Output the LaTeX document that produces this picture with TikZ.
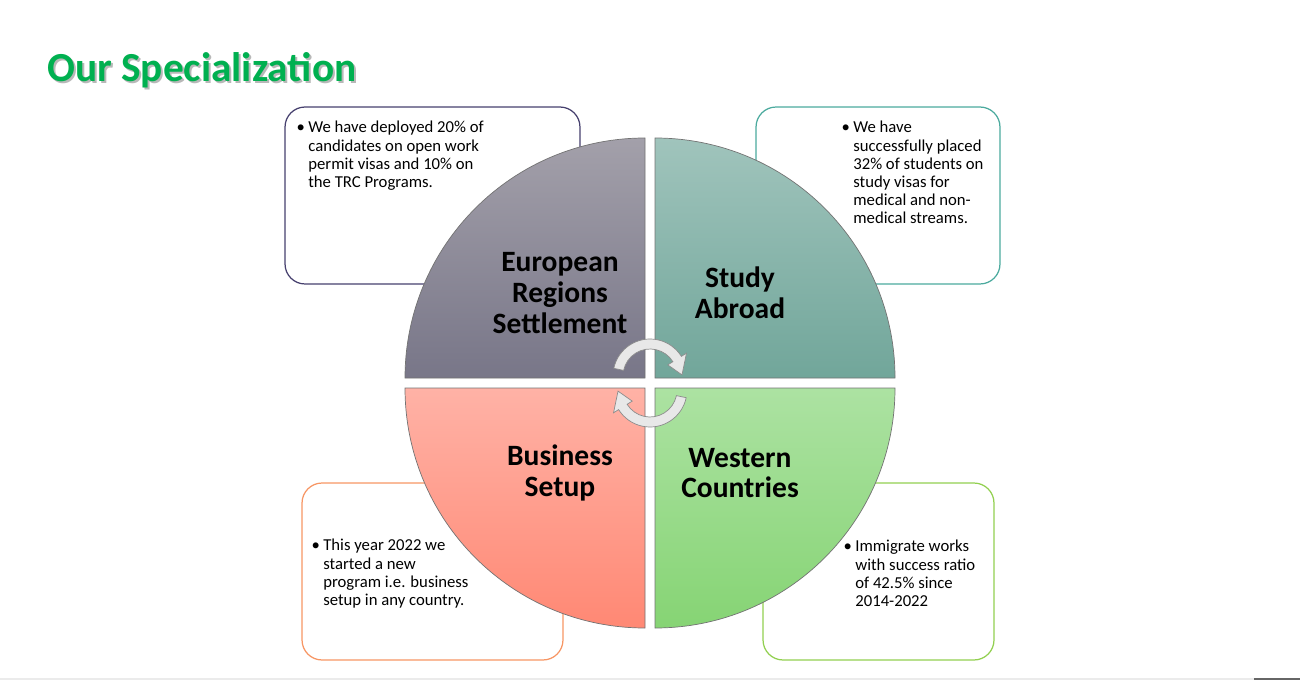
\documentclass[tikz,border=0pt]{standalone}
\usepackage{fontspec}
\setmainfont{Carlito}
\usetikzlibrary{positioning}
\definecolor{titlegreen}{RGB}{0,176,80}
\definecolor{eurline}{RGB}{70,64,110}
\definecolor{studyline}{RGB}{75,170,158}
\definecolor{busline}{RGB}{247,150,100}
\definecolor{westline}{RGB}{146,208,80}
\definecolor{eurtop}{RGB}{163,160,170}
\definecolor{eurbot}{RGB}{120,118,136}
\definecolor{studytop}{RGB}{160,196,188}
\definecolor{studybot}{RGB}{113,166,154}
\definecolor{bustop}{RGB}{255,178,166}
\definecolor{busbot}{RGB}{255,136,116}
\definecolor{westtop}{RGB}{172,226,162}
\definecolor{westbot}{RGB}{134,212,116}

\begin{document}
\begin{tikzpicture}[x=0.02cm, y=0.02cm]
  \tikzstyle{quadrant}=[draw=black!55, line width=0.4pt]
  \tikzstyle{note}=[rectangle, rounded corners=0.4cm, line width=0.7pt, fill=white, minimum height=3.54cm]
  \tikzstyle{notetext}=[align=left, anchor=north west, inner sep=0pt, font=\fontsize{9.5}{10.3}\selectfont]
  \tikzstyle{quadlabel}=[align=center, font=\fontsize{16.8}{17.6}\selectfont\bfseries]
  \tikzstyle{titletext}=[anchor=west, inner sep=0pt, font=\fontsize{23.5}{26}\selectfont\bfseries]
  \tikzstyle{turnarrow}=[draw=black!45, fill=black!9, line width=0.4pt]

  \useasboundingbox (0,0) rectangle (1300,680);

  % title
  \node[titletext, text=black!28] (titleshadow) at (49,608) {Our Specialization};
  \node[titletext, text=titlegreen] (title) at (47,610) {Our Specialization};

  % note boxes behind the circle
  \node[note, draw=eurline, minimum width=5.9cm] (boxeur) at (432.5,484.5) {};
  \node[note, draw=studyline, minimum width=4.88cm] (boxstudy) at (878,484.5) {};
  \node[note, draw=busline, minimum width=5.22cm] (boxbus) at (432.5,108.5) {};
  \node[note, draw=westline, minimum width=4.62cm] (boxwest) at (878.5,108.5) {};

  \node[notetext] (txteur) at (308,559) {\llap{\textbullet\hspace{2pt}}We have deployed 20\% of\\ candidates on open work\\ permit visas and 10\% on\\ the TRC Programs.};
  \node[notetext] (txtstudy) at (853,559) {\llap{\textbullet\hspace{2pt}}We have\\ successfully placed\\ 32\% of students on\\ study visas for\\ medical and non-\\ medical streams.};
  \node[notetext] (txtbus) at (323,141) {\llap{\textbullet\hspace{2pt}}This year 2022 we\\ started a new\\ program i.e. business\\ setup in any country.};
  \node[notetext] (txtwest) at (855,140) {\llap{\textbullet\hspace{2pt}}Immigrate works\\ with success ratio\\ of 42.5\% since\\ 2014-2022};

  % quadrants
  \draw[quadrant, top color=eurtop, bottom color=eurbot] (645,302) -- ++(-240,0) arc[start angle=180, end angle=90, radius=240] -- cycle;
  \draw[quadrant, top color=studytop, bottom color=studybot] (655,302) -- ++(0,240) arc[start angle=90, end angle=0, radius=240] -- cycle;
  \draw[quadrant, top color=bustop, bottom color=busbot] (645,292) -- ++(-240,0) arc[start angle=180, end angle=270, radius=240] -- cycle;
  \draw[quadrant, top color=westtop, bottom color=westbot] (655,292) -- ++(240,0) arc[start angle=0, end angle=-90, radius=240] -- cycle;

  \node[quadlabel] (eur) at (560,387) {European\\ Regions\\ Settlement};
  \node[quadlabel] (study) at (740,387.5) {Study\\ Abroad};
  \node[quadlabel] (bus) at (560,207) {Business\\ Setup};
  \node[quadlabel] (west) at (740,207) {Western\\ Countries};

  % circular arrows in the middle
  \foreach \cy/\rot in {304/0, 290/180} {
    \begin{scope}[shift={(650,\cy)}, rotate=\rot]
      \path[turnarrow] (168:37) arc[start angle=168, end angle=32, radius=37]
        -- (32:43) -- (2:32) -- (32:21) -- (32:27)
        arc[start angle=32, end angle=168, radius=27] -- cycle;
    \end{scope}
  }

  % footer rule
  \draw[black!8, line width=0.6pt] (0,1) -- (1254,1);
  \draw[black!60, line width=1pt] (1254,1) -- (1300,1);
\end{tikzpicture}
\end{document}
